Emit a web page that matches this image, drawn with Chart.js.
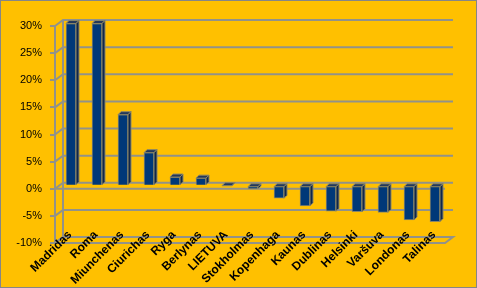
<!DOCTYPE html>
<html>
<head>
<meta charset="utf-8">
<script src="https://cdn.jsdelivr.net/npm/chart.js@4"></script>
<style>
  html, body { margin: 0; padding: 0; background: #FFC000; }
  #wrap { width: 477px; height: 288px; }
</style>
</head>
<body>
<div id="wrap"><canvas id="main-chart" width="477" height="288"></canvas></div>
<script>
// chart data
var cities = ['Madridas', 'Roma', 'Miunchenas', 'Ciurichas', 'Ryga', 'Berlynas', 'LIETUVA', 'Stokholmas',
	'Kopenhaga', 'Kaunas', 'Dublinas', 'Helsinki', 'Varšuva', 'Londonas', 'Talinas'];
var change = [29.9, 29.9, 13.1, 6.1, 1.6, 1.4, 0, -0.6, -2.3, -3.7, -4.7, -4.8, -4.9, -6.3, -6.6];
var yMin = -10, yMax = 30, yStep = 5;

var GOLD = '#FFC000';
var LINE = '#929289';
var WALL_DX = 8, WALL_DY = -6;   // back wall offset
var BAR_DX = 3, BAR_DY = -3;     // bar shift into depth
var FACE = 3;                    // top / side face size

// background, back wall, floor, 3d faces, category labels
var wallPlugin = {
	id: 'wall',
	beforeDraw: function (chart) {
		var ctx = chart.ctx, a = chart.chartArea, y = chart.scales.y;
		ctx.save();
		ctx.fillStyle = GOLD;
		ctx.fillRect(0, 0, chart.width, chart.height);
		ctx.strokeStyle = '#868686';
		ctx.lineWidth = 1;
		ctx.strokeRect(0.5, 0.5, chart.width - 1, chart.height - 1);

		ctx.strokeStyle = LINE;
		ctx.lineWidth = 2;
		// floor
		var fb = y.getPixelForValue(yMin);
		ctx.beginPath();
		ctx.moveTo(a.left, fb);
		ctx.lineTo(a.right, fb);
		ctx.lineTo(a.right + WALL_DX, fb + WALL_DY);
		ctx.lineTo(a.left + WALL_DX, fb + WALL_DY);
		ctx.closePath();
		ctx.stroke();
		// back wall gridlines and connectors
		for (var v = yMin; v <= yMax; v += yStep) {
			var py = y.getPixelForValue(v);
			ctx.beginPath();
			ctx.moveTo(a.left, py);
			ctx.lineTo(a.left + WALL_DX, py + WALL_DY);
			ctx.lineTo(a.right + WALL_DX, py + WALL_DY);
			ctx.stroke();
		}
		// back wall left edge
		ctx.beginPath();
		ctx.moveTo(a.left + WALL_DX, y.getPixelForValue(yMax) + WALL_DY);
		ctx.lineTo(a.left + WALL_DX, fb + WALL_DY);
		ctx.stroke();
		// front zero line
		var z = y.getPixelForValue(0);
		ctx.beginPath();
		ctx.moveTo(a.left, z);
		ctx.lineTo(a.right, z);
		ctx.stroke();
		ctx.restore();
	},
	beforeDatasetsDraw: function (chart) {
		chart.ctx.save();
		chart.ctx.translate(BAR_DX, BAR_DY);
	},
	afterDatasetsDraw: function (chart) {
		var ctx = chart.ctx;
		var meta = chart.getDatasetMeta(0);
		ctx.lineWidth = 1;
		ctx.strokeStyle = '#8a8668';
		meta.data.forEach(function (el) {
			var p = el.getProps(['x', 'y', 'base', 'width'], true);
			var l = p.x - p.width / 2, r = p.x + p.width / 2;
			var t = Math.min(p.y, p.base), b = Math.max(p.y, p.base);
			// top face
			ctx.beginPath();
			ctx.moveTo(l, t);
			ctx.lineTo(r, t);
			ctx.lineTo(r + FACE, t - FACE);
			ctx.lineTo(l + FACE, t - FACE);
			ctx.closePath();
			ctx.fillStyle = '#22375a';
			ctx.fill();
			ctx.stroke();
			// side face
			ctx.beginPath();
			ctx.moveTo(r, t);
			ctx.lineTo(r + FACE, t - FACE);
			ctx.lineTo(r + FACE, b - FACE);
			ctx.lineTo(r, b);
			ctx.closePath();
			ctx.fillStyle = '#10274b';
			ctx.fill();
			ctx.stroke();
		});
		ctx.restore();
	},
	afterDraw: function (chart) {
		var ctx = chart.ctx, x = chart.scales.x, a = chart.chartArea;
		ctx.save();
		ctx.fillStyle = '#000';
		ctx.font = 'bold 12px "Liberation Sans"';
		ctx.textAlign = 'right';
		ctx.textBaseline = 'middle';
		cities.forEach(function (name, i) {
			ctx.save();
			ctx.translate(x.getPixelForTick(i) + 2, a.bottom - 10);
			ctx.rotate(-Math.PI / 4);
			ctx.fillText(name, 0, 0);
			ctx.restore();
		});
		ctx.restore();
	}
};

var ctx = document.getElementById('main-chart');
var chart = new Chart(ctx, {
	type: 'bar',
	data: {
		labels: cities,
		datasets: [{
			data: change,
			backgroundColor: '#003878',
			borderColor: '#8a8668',
			borderWidth: 1,
			barThickness: 10,
			clip: false
		}]
	},
	options: {
		responsive: false,
		animation: false,
		events: [],
		layout: { padding: { top: 26, right: 32, left: 0, bottom: 0 } },
		plugins: {
			legend: { display: false },
			tooltip: { enabled: false }
		},
		scales: {
			x: {
				grid: { display: false, drawTicks: false },
				border: { display: false },
				afterFit: function (s) { s.height = 45; },
				ticks: { display: false }
			},
			y: {
				min: yMin,
				max: yMax,
				afterFit: function (s) { s.width = 55; },
				grid: { drawOnChartArea: false, drawTicks: true, tickLength: 5, color: LINE, lineWidth: 2 },
				border: { display: true, color: LINE, width: 2 },
				ticks: {
					stepSize: yStep,
					padding: 8,
					color: '#000',
					font: { family: 'Liberation Sans', size: 11 },
					callback: function (v) { return v + '%'; }
				}
			}
		}
	},
	plugins: [wallPlugin]
});
</script>
</body>
</html>
